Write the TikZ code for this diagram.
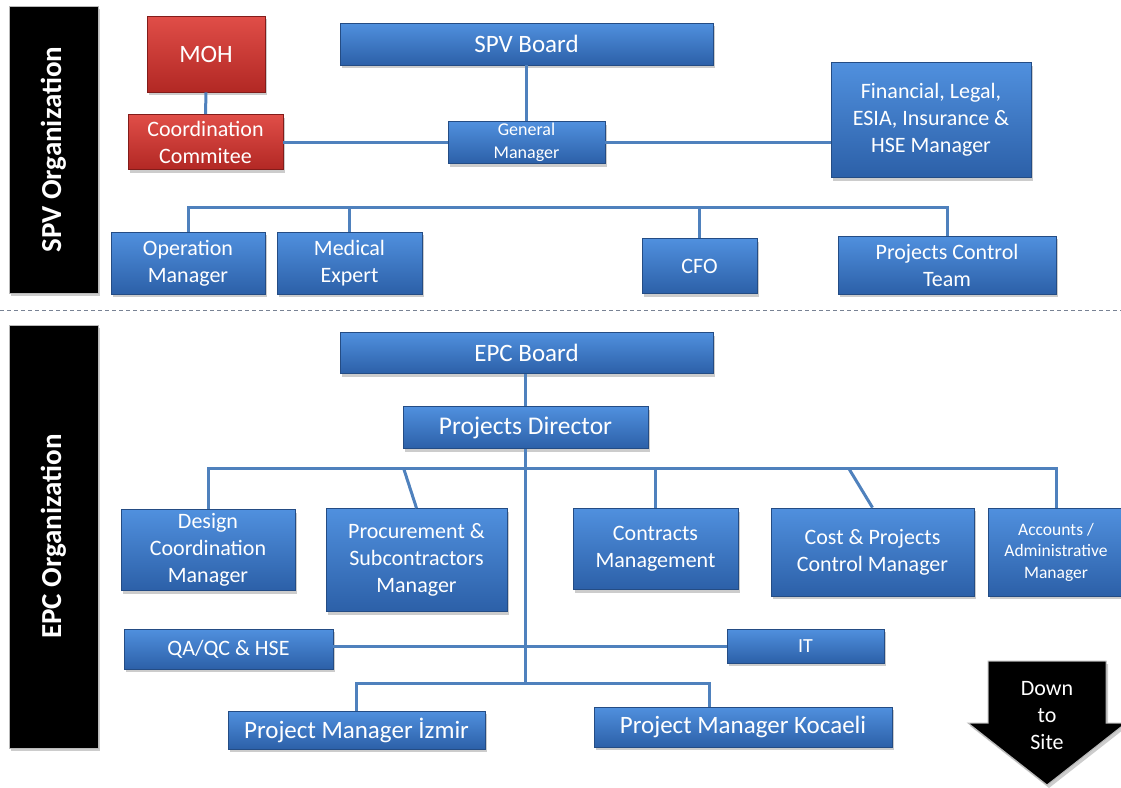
\documentclass[tikz,border=0pt]{standalone}
\usepackage{fontspec}
\setmainfont{Carlito}
\usetikzlibrary{shadows,calc}
\definecolor{boxtop}{RGB}{80,144,222}
\definecolor{boxbot}{RGB}{44,96,168}
\definecolor{boxdraw}{RGB}{36,76,132}
\definecolor{redtop}{RGB}{224,78,72}
\definecolor{redbot}{RGB}{178,40,36}
\definecolor{reddraw}{RGB}{130,28,26}
\definecolor{linec}{RGB}{79,129,189}
\definecolor{sepc}{RGB}{120,130,148}
\begin{document}
\begin{tikzpicture}[x=1pt,y=-1pt,
  box/.style={draw=boxdraw, line width=0.8pt, top color=boxtop, bottom color=boxbot,
    text=white, align=center, inner sep=0pt, font=\fontsize{22}{27}\selectfont,
    drop shadow={opacity=0.4, shadow xshift=2pt, shadow yshift=-3pt}},
  redbox/.style={box, draw=reddraw, top color=redtop, bottom color=redbot},
  bar/.style={fill=black, draw=gray!55, line width=1pt, text=white, inner sep=0pt,
    drop shadow={opacity=0.4, shadow xshift=2pt, shadow yshift=-3pt}},
  bartext/.style={text=white, rotate=90, font=\bfseries\fontsize{29}{33}\selectfont},
  conn/.style={draw=linec, line width=3pt},
  sepline/.style={draw=sepc, line width=1pt, dash pattern=on 4pt off 3pt}
]
\useasboundingbox (0,0) rectangle (1121,787);

% title bars
\node[bar, minimum width=89, minimum height=287] (spvbar) at (53.5,149.5) {};
\node[bartext] (spvt) at (spvbar.center) {SPV Organization};
\node[bar, minimum width=89, minimum height=423] (epcbar) at (53.5,536.5) {};
\node[bartext] (epct) at (epcbar.center) {EPC Organization};

% separator
\coordinate (sepL) at (0,310);
\coordinate (sepR) at (1121,310);
\draw[sepline] (sepL) -- (sepR);

% SPV part
\node[redbox, minimum width=118, minimum height=76, font=\fontsize{25}{30}\selectfont] (moh) at (206,54) {MOH};
\node[redbox, minimum width=155, minimum height=55] (coord) at (205.5,142) {Coordination\\Commitee};
\node[box, minimum width=373, minimum height=42, font=\fontsize{25}{30}\selectfont] (spvboard) at (526.5,44) {SPV Board};
\node[box, minimum width=157, minimum height=42, font=\fontsize{18}{23.5}\selectfont] (gm) at (526.5,142.5) {General\\Manager};
\node[box, minimum width=200, minimum height=115] (fin) at (931,120) {Financial, Legal,\\ESIA, Insurance \&\\HSE Manager};
\node[box, minimum width=154, minimum height=62] (op) at (188,263) {Operation\\Manager};
\node[box, minimum width=145, minimum height=62] (med) at (349.5,263) {Medical\\Expert};
\node[box, minimum width=115, minimum height=55] (cfo) at (699.5,266) {CFO};
\node[box, minimum width=218, minimum height=58] (pct) at (947,265) {Projects Control\\Team};

% EPC part
\node[box, minimum width=373, minimum height=41, font=\fontsize{25}{30}\selectfont] (epcboard) at (526.5,353) {EPC Board};
\node[box, minimum width=245, minimum height=42, font=\fontsize{25.5}{30}\selectfont] (pd) at (525.5,427.5) {Projects Director};
\node[box, minimum width=174, minimum height=81] (design) at (208,550) {Design\\Coordination\\Manager};
\node[box, minimum width=181, minimum height=103] (proc) at (416.5,560) {Procurement \&\\Subcontractors\\Manager};
\node[box, minimum width=165, minimum height=81] (contracts) at (655.5,549) {Contracts\\Management};
\node[box, minimum width=203, minimum height=88] (cost) at (872.5,552) {Cost \& Projects\\Control Manager};
\node[box, minimum width=136, minimum height=88, font=\fontsize{17.5}{21.5}\selectfont] (accounts) at (1056,552) {Accounts /\\Administrative\\Manager};
\node[box, minimum width=209, minimum height=40] (qa) at (228.5,649) {QA/QC \& HSE};
\node[box, minimum width=157, minimum height=34, font=\fontsize{20}{24}\selectfont] (it) at (805.5,646) {IT};
\node[box, minimum width=257, minimum height=38, font=\fontsize{25}{30}\selectfont] (izmir) at (356.5,730) {Project Manager İzmir};
\node[box, minimum width=298, minimum height=40, font=\fontsize{25}{30}\selectfont] (kocaeli) at (743,727) {Project Manager Kocaeli};

% Down to site arrow
\draw[fill=black, draw=gray!55, line width=1pt,
  drop shadow={opacity=0.4, shadow xshift=2pt, shadow yshift=-3pt}]
  (988,661) -- (1106,661) -- (1106,723) -- (1126,723) -- (1047,785) -- (968,723) -- (988,723) -- cycle;
\node[text=white, align=center, inner sep=0pt, font=\fontsize{22}{27}\selectfont] (down) at (1047,716) {Down\\to\\Site};

% connectors SPV
\coordinate (sbus) at (0,207);
\draw[conn] (moh.south) -- (coord.north);
\draw[conn] (coord.east |- gm.west) -- (gm.west);
\draw[conn] (gm.east) -- (gm.east -| fin.west);
\draw[conn] (spvboard.south) -- (gm.north);
\draw[conn] (op.north) |- (pct.north |- sbus) -- (pct.north);
\draw[conn] (med.north) -- (med.north |- sbus);
\draw[conn] (cfo.north) -- (cfo.north |- sbus);

% connectors EPC
\coordinate (ebus) at (0,468);
\coordinate (qbus) at (0,646);
\coordinate (pbus) at (0,683);
\coordinate (kocdrop) at ($(kocaeli.north)+(-34,0)$);
\draw[conn] (pd.north |- epcboard.south) -- (pd.north);
\draw[conn] (pd.south) -- (pd.south |- pbus);
\draw[conn] (design.north) |- (accounts.north |- ebus) -- (accounts.north);
\draw[conn] (proc.north) -- ($(proc.north |- ebus)+(-13,0)$);
\draw[conn] (contracts.north) -- (contracts.north |- ebus);
\draw[conn] (cost.north) -- ($(cost.north |- ebus)+(-24,0)$);
\draw[conn] (qa.east |- qbus) -- (it.west |- qbus);
\draw[conn] (izmir.north) |- (kocdrop |- pbus) -- (kocdrop);
\end{tikzpicture}
\end{document}
